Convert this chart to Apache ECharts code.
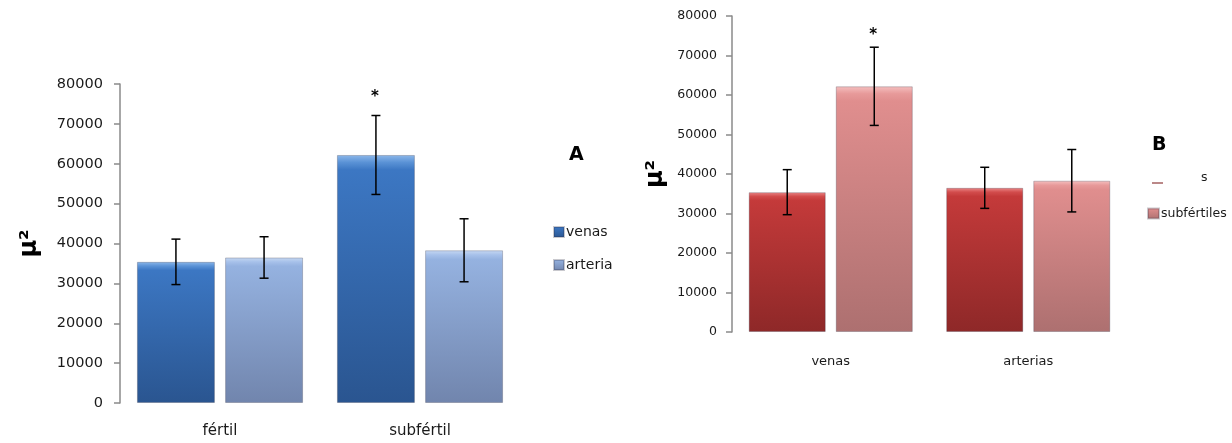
<!DOCTYPE html>
<html>
<head>
<meta charset="utf-8">
<script src="https://cdn.jsdelivr.net/npm/echarts@6/dist/echarts.min.js"></script>
<style>
html,body{margin:0;padding:0;background:#fff;}
#chart{width:1232px;height:443px;}
</style>
</head>
<body>
<div id="chart"></div>
<script>
// ---- Data: panel A ----
const categoriesA = ['fértil', 'subfértil'];
const venasA = [35400, 62200];
const arteriasA = [36500, 38300];
const errVenasA = [5700, 9900];
const errArteriasA = [5200, 7900];
const sigVenasA = ['', '*'];
const sigArteriasA = ['', ''];

// ---- Data: panel B ----
const categoriesB = ['venas', 'arterias'];
const fertilesB = [35400, 36500];
const subfertilesB = [62200, 38300];
const errFertilesB = [5700, 5200];
const errSubfertilesB = [9900, 7900];
const sigFertilesB = ['', ''];
const sigSubfertilesB = ['*', ''];

const yTicks = [0, 10000, 20000, 30000, 40000, 50000, 60000, 70000, 80000];

const FONT = 'DejaVu Sans';
const BAR_PCT = 0.39;
const GAP_PCT = 0.13;

function grad(c0, c1, c2, c3) {
  return new echarts.graphic.LinearGradient(0, 0, 0, 1, [
    {offset: 0, color: c0},
    {offset: 0.03, color: c1},
    {offset: 0.06, color: c2},
    {offset: 1, color: c3}
  ]);
}

const colVenasA = grad('#8db8ea', '#5a92d6', '#3c77c3', '#2a5590');
const colArteriasA = grad('#c8d9f2', '#a7c1ea', '#95b2e0', '#7185ad');
const colFertilesB = grad('#ec8a8a', '#d24c4c', '#c43a3a', '#8e2828');
const colSubfertilesB = grad('#f5c0c0', '#e79a9a', '#e08e8e', '#ad7070');

function errSeries(name, xIdx, yIdx, slot, values, errs, sigs, starGap) {
  return {
    type: 'custom',
    name: name + '_err',
    xAxisIndex: xIdx,
    yAxisIndex: yIdx,
    z: 5,
    silent: true,
    data: values.map((v, i) => [i, v, errs[i]]),
    renderItem: function (params, api) {
      const cat = api.value(0), val = api.value(1), err = api.value(2);
      const band = api.size([1, 0])[0];
      const bw = band * BAR_PCT;
      const gap = bw * GAP_PCT;
      const off = (slot === 0 ? -1 : 1) * (bw + gap) / 2;
      const top = api.coord([cat, val + err]);
      const bot = api.coord([cat, val - err]);
      const x = top[0] + off;
      const cap = 4.5;
      const st = {stroke: '#000', lineWidth: 1.5};
      const children = [
        {type: 'line', shape: {x1: x, y1: top[1], x2: x, y2: bot[1]}, style: st},
        {type: 'line', shape: {x1: x - cap, y1: top[1], x2: x + cap, y2: top[1]}, style: st},
        {type: 'line', shape: {x1: x - cap, y1: bot[1], x2: x + cap, y2: bot[1]}, style: st}
      ];
      const s = sigs[params.dataIndex];
      if (s) {
        children.push({type: 'text', style: {text: s, x: x - 1, y: top[1] - starGap, align: 'center', verticalAlign: 'middle', fontFamily: FONT, fontSize: 15, fontWeight: 'bold', fill: '#000'}});
      }
      return {type: 'group', children: children};
    }
  };
}

function barSeries(name, xIdx, yIdx, values, color) {
  return {
    type: 'bar',
    name: name,
    xAxisIndex: xIdx,
    yAxisIndex: yIdx,
    data: values,
    barWidth: (BAR_PCT * 100) + '%',
    barGap: (GAP_PCT * 100) + '%',
    itemStyle: {color: color, borderColor: 'rgba(40,40,60,0.25)', borderWidth: 1}
  };
}

function yAxis(gridIndex, fontSize, margin, nameGap) {
  return {
    type: 'value', gridIndex: gridIndex, min: 0, max: 80000, interval: 10000,
    name: 'μ²', nameLocation: 'middle', nameRotate: 90, nameGap: nameGap,
    nameTextStyle: {fontFamily: FONT, fontSize: 24, fontWeight: 'bold', color: '#000'},
    axisLine: {show: true, lineStyle: {color: '#8a8a8a', width: 1.5}},
    axisTick: {show: true, length: 6, lineStyle: {color: '#8a8a8a', width: 1.5}},
    splitLine: {show: false},
    axisLabel: {fontFamily: FONT, fontSize: fontSize, color: '#1a1a1a', margin: margin,
      formatter: v => yTicks.indexOf(v) >= 0 ? String(v) : ''}
  };
}

function xAxis(gridIndex, cats, fontSize, margin) {
  return {
    type: 'category', gridIndex: gridIndex, data: cats,
    axisLine: {show: false}, axisTick: {show: false},
    axisLabel: {fontFamily: FONT, fontSize: fontSize, color: '#1a1a1a', margin: margin}
  };
}

const chart = echarts.init(document.getElementById('chart'), null, {renderer: 'canvas'});
chart.setOption({
  animation: false,
  backgroundColor: '#ffffff',
  grid: [
    {left: 120, top: 84, width: 400, height: 319},
    {left: 732, top: 16, width: 395, height: 316}
  ],
  xAxis: [xAxis(0, categoriesA, 15, 21), xAxis(1, categoriesB, 13, 23)],
  yAxis: [yAxis(0, 14.5, 17, 78), yAxis(1, 12.5, 15, 64)],
  legend: [
    {
      data: ['venas', 'arterias'], orient: 'vertical', left: 548, top: 220,
      itemWidth: 10, itemHeight: 10, itemGap: 19, icon: 'rect',
      textStyle: {fontFamily: FONT, fontSize: 14, color: '#1a1a1a', padding: [0, 0, 0, -3]}
    },
    {
      data: ['subfértiles'], orient: 'vertical', left: 1142, top: 202,
      itemWidth: 11, itemHeight: 10, icon: 'rect',
      textStyle: {fontFamily: FONT, fontSize: 12.5, color: '#1a1a1a', padding: [0, 0, 0, -3]}
    }
  ],
  graphic: [
    {type: 'rect', left: 612, top: 245, shape: {width: 18, height: 40}, style: {fill: '#fff'}, z: 100},
    {type: 'text', left: 569, top: 146, style: {text: 'A', fontFamily: FONT, fontSize: 19, fontWeight: 'bold', fill: '#000'}},
    {type: 'text', left: 1152, top: 136, style: {text: 'B', fontFamily: FONT, fontSize: 19, fontWeight: 'bold', fill: '#000'}},
    {type: 'line', shape: {x1: 1152, y1: 183, x2: 1163, y2: 183}, style: {stroke: '#8e3a3a', lineWidth: 1.2}},
    {type: 'text', left: 1201, top: 171, style: {text: 's', fontFamily: FONT, fontSize: 12.5, fill: '#1a1a1a'}}
  ],
  series: [
    barSeries('venas', 0, 0, venasA, colVenasA),
    barSeries('arterias', 0, 0, arteriasA, colArteriasA),
    errSeries('venas', 0, 0, 0, venasA, errVenasA, sigVenasA, 18),
    errSeries('arterias', 0, 0, 1, arteriasA, errArteriasA, sigArteriasA, 18),
    barSeries('fértiles', 1, 1, fertilesB, colFertilesB),
    barSeries('subfértiles', 1, 1, subfertilesB, colSubfertilesB),
    errSeries('fértiles', 1, 1, 0, fertilesB, errFertilesB, sigFertilesB, 12),
    errSeries('subfértiles', 1, 1, 1, subfertilesB, errSubfertilesB, sigSubfertilesB, 12)
  ]
});
</script>
</body>
</html>
